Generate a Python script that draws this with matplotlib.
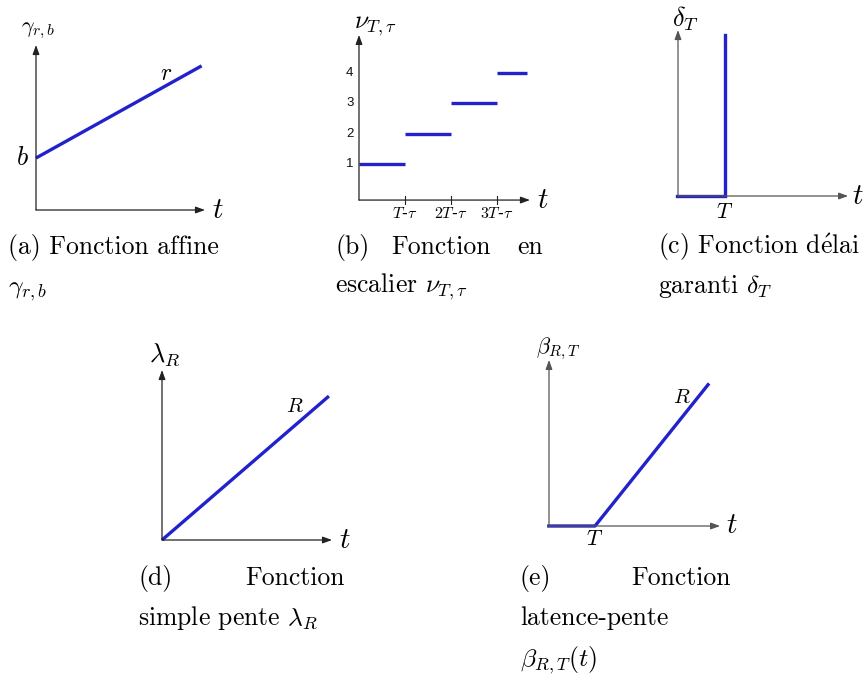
import matplotlib
matplotlib.use("Agg")
import matplotlib.pyplot as plt

plt.rcParams['mathtext.fontset'] = 'cm'
plt.rcParams['axes.formatter.use_mathtext'] = True

W, H = 863, 675
BLUE = '#2222cc'
AX = '#222222'
AX2 = '#555555'
CAP = ['cmr10', 'DejaVu Serif']

# ---------------- data ----------------
# (a) affine function gamma_{r,b}
a_b = 3.15          # intercept b
a_r = 0.57          # slope r
a_t = [0.0, 9.8]    # time span of the drawn line

# (b) staircase nu_{T,tau}
b_levels = [1, 2, 3, 4]
b_starts = [0, 1, 2, 3]
b_ends = [1, 2, 3, 3.65]
b_ticks = [1, 2, 3]
b_ticklabels = [r'$T$-$\tau$', r'$2T$-$\tau$', r'$3T$-$\tau$']

# (c) guaranteed delay delta_T
c_T = 1.0
c_top = 1.0

# (d) simple slope lambda_R
d_R = 0.862
d_t = [0.0, 9.82]

# (e) latency-rate beta_{R,T}
e_T = 1.0
e_R = 1.25
e_t = [-0.04, 1.0, 3.48]

fig = plt.figure(figsize=(W / 100, H / 100), dpi=100)


def make_ax(x0, x1, y0, y1, xlim, ylim):
    """x0,x1: pixel x of xlim; y0 (bottom px), y1 (top px) of ylim."""
    ax = fig.add_axes([x0 / W, 1 - y0 / H, (x1 - x0) / W, (y0 - y1) / H])
    ax.set_xlim(*xlim)
    ax.set_ylim(*ylim)
    ax.axis('off')
    return ax


def arrows(ax, x0, y0, xmax, ymax, color=AX):
    kw = dict(arrowstyle='-|>,head_length=0.55,head_width=0.2', color=color,
              lw=0.9, shrinkA=0, shrinkB=0)
    ax.annotate('', xy=(xmax, y0), xytext=(x0, y0), arrowprops=kw,
                annotation_clip=False)
    ax.annotate('', xy=(x0, ymax), xytext=(x0, y0), arrowprops=kw,
                annotation_clip=False)


# ---------- (a) ----------
ax = make_ax(36, 205, 210, 45, (0, 10), (0, 10))
arrows(ax, 0, 0, 10, 10)
ax.plot(a_t, [a_b + a_r * t for t in a_t], color=BLUE, lw=2.4,
        solid_capstyle='butt', clip_on=False)
ax.text(-0.45, a_b, r'$b$', fontsize=19, ha='right', va='center')
ax.text(7.7, 8.3, r'$r$', fontsize=17, ha='center', va='center')
ax.text(0.1, 10.85, r'$\gamma_{r,b}$', fontsize=16, ha='center',
        va='center')
ax.text(10.4, 0, r'$t$', fontsize=21, ha='left', va='center')
fig.text(8 / W, 1 - 247 / H, '(a) Fonction affine', family=CAP,
         fontsize=18.5, ha='left', va='center')
fig.text(8 / W, 1 - 290 / H, r'$\gamma_{r,b}$', fontsize=18.5,
         ha='left', va='center')

# ---------- (b) ----------
bx0 = 359
bscale_x = 46
bscale_y = 30.3
b_axis_y = -0.19
ax = make_ax(bx0, bx0 + bscale_x * 3.717, 194.3 - bscale_y * b_axis_y,
             194.3 - bscale_y * 5.26, (0, 3.717), (b_axis_y, 5.26))
arrows(ax, 0, b_axis_y, 3.717, 5.26)
for s, e, lv in zip(b_starts, b_ends, b_levels):
    ax.plot([s, e], [lv, lv], color=BLUE, lw=2.4, solid_capstyle='butt',
            clip_on=False)
for lv in b_levels:
    ax.text(-0.12, lv, str(lv), fontsize=9.5, family='Liberation Sans',
            ha='right', va='center', color='#111111')
for tk, lb in zip(b_ticks, b_ticklabels):
    ax.plot([tk, tk], [b_axis_y - 0.12, b_axis_y + 0.12], color=AX, lw=0.8,
            clip_on=False)
    ax.text(tk, b_axis_y - 0.18, lb, fontsize=11.5, ha='center', va='top')
ax.text(0.35, 5.6, r'$\nu_{T,\tau}$', fontsize=18.5, ha='center',
        va='center')
ax.text(3.86, b_axis_y, r'$t$', fontsize=21, ha='left', va='center')
fig.text(335 / W, 1 - 247 / H, '(b)', family=CAP, fontsize=18.5,
         ha='left', va='center')
fig.text(441 / W, 1 - 247 / H, 'Fonction', family=CAP, fontsize=18.5,
         ha='center', va='center')
fig.text(543 / W, 1 - 247 / H, 'en', family=CAP, fontsize=18.5,
         ha='right', va='center')
fig.text(335 / W, 1 - 287 / H, r'escalier $\nu_{T,\tau}$', family=CAP,
         fontsize=18.5, ha='left', va='center')

# ---------- (c) ----------
ax = make_ax(678, 678 + 47 * 3.62, 196, 196 - 161 * 1.031, (0, 3.62),
             (0, 1.031))
arrows(ax, 0, 0, 3.62, 1.031, color=AX2)
ax.plot([-0.03, c_T, c_T], [0, 0, c_top], color=BLUE, lw=2.4,
        solid_joinstyle='miter', clip_on=False)
ax.text(c_T, -0.035, r'$T$', fontsize=15.5, ha='center', va='top')
ax.text(0.16, 1.1, r'$\delta_T$', fontsize=19, ha='center', va='center')
ax.text(3.7, 0, r'$t$', fontsize=21, ha='left', va='center')
fig.text(658 / W, 1 - 247 / H, r'(c) Fonction d$\mathrm{\acute{e}}$lai',
         family=CAP, fontsize=18.5, ha='left', va='center')
fig.text(658 / W, 1 - 287 / H, r'garanti $\delta_T$', family=CAP,
         fontsize=18.5, ha='left', va='center')

# ---------- (d) ----------
ax = make_ax(162, 332, 540, 370, (0, 10), (0, 10))
arrows(ax, 0, 0, 10, 10)
ax.plot(d_t, [d_R * t for t in d_t], color=BLUE, lw=2.4,
        solid_capstyle='butt', clip_on=False)
ax.text(7.8, 7.9, r'$R$', fontsize=15, ha='center', va='center')
ax.text(0.15, 10.9, r'$\lambda_R$', fontsize=19, ha='center',
        va='center')
ax.text(10.4, 0, r'$t$', fontsize=21, ha='left', va='center')
fig.text(138 / W, 1 - 578 / H, '(d)', family=CAP, fontsize=18.5,
         ha='left', va='center')
fig.text(345 / W, 1 - 578 / H, 'Fonction', family=CAP, fontsize=18.5,
         ha='right', va='center')
fig.text(138 / W, 1 - 618 / H, r'simple pente $\lambda_R$', family=CAP,
         fontsize=18.5, ha='left', va='center')

# ---------- (e) ----------
ax = make_ax(549, 549 + 46 * 3.72, 526, 526 - 46 * 3.61, (0, 3.72),
             (0, 3.61))
arrows(ax, 0, 0, 3.72, 3.61, color=AX2)
ax.plot(e_t, [max(0.0, e_R * (t - e_T)) for t in e_t], color=BLUE, lw=2.4,
        solid_capstyle='butt', clip_on=False)
ax.text(e_T, -0.07, r'$T$', fontsize=15.5, ha='center', va='top')
ax.text(2.88, 2.8, r'$R$', fontsize=15, ha='center', va='center')
ax.text(0.2, 3.85, r'$\beta_{R,T}$', fontsize=16, ha='center',
        va='center')
ax.text(3.85, 0.03, r'$t$', fontsize=21, ha='left', va='center')
fig.text(520 / W, 1 - 578 / H, '(e)', family=CAP, fontsize=18.5,
         ha='left', va='center')
fig.text(731 / W, 1 - 578 / H, 'Fonction', family=CAP, fontsize=18.5,
         ha='right', va='center')
fig.text(520 / W, 1 - 618 / H, 'latence-pente', family=CAP, fontsize=18.5,
         ha='left', va='center')
fig.text(520 / W, 1 - 660 / H, r'$\beta_{R,T}(t)$', fontsize=18.5,
         ha='left', va='center')

fig.savefig('out.png', dpi=100)
